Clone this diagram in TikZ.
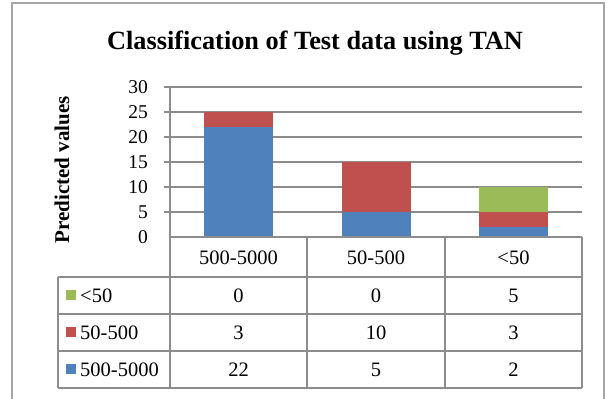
\documentclass[tikz,border=0pt]{standalone}
\usepackage{fontspec}
\setmainfont{Liberation Serif}
\definecolor{sblue}{HTML}{4F81BD}
\definecolor{sred}{HTML}{C0504D}
\definecolor{sgreen}{HTML}{9BBB59}
\definecolor{gridc}{HTML}{8C8C8C}
\definecolor{framec}{HTML}{A6A6A6}
\begin{document}
\begin{tikzpicture}[x=1pt,y=-1pt,
  grid/.style={draw=gridc,line width=1.3pt},
  tbl/.style={draw=gridc,line width=1.4pt},
  tick/.style={anchor=east,inner sep=0pt,font=\fontsize{19.5}{19.5}\selectfont},
  cell/.style={inner sep=0pt,font=\fontsize{20.5}{20.5}\selectfont},
  leg/.style={anchor=west,inner sep=0pt,font=\fontsize{20.5}{20.5}\selectfont},
  sq/.style={minimum size=10pt,inner sep=0pt}]
\useasboundingbox (0,0) rectangle (614,399);
\fill[white] (0,0) rectangle (614,399);
% frame
\draw[draw=framec,line width=1.5pt] (12,400) -- (12,3) -- (604,3) -- (604,400);
% title
\node[inner sep=0pt,font=\fontsize{26.3}{26.3}\selectfont\bfseries] (title) at (315,43) {Classification of Test data using TAN};
% y label
\node[inner sep=0pt,rotate=90,font=\fontsize{21}{21}\selectfont\bfseries] (ylab) at (62,170) {Predicted values};
% gridlines and ticks
\foreach \v in {5,10,...,30}{
  \draw[grid] (164,{237-5*\v}) -- (582,{237-5*\v});
}
\foreach \v in {0,5,...,30}{
  \node[tick] (t\v) at (148,{237-5*\v}) {\v};
}
% bars
\fill[sblue] (204,237) rectangle (273,{237-5*22});
\fill[sred] (204,{237-5*22}) rectangle (273,{237-5*25});
\fill[sblue] (342,237) rectangle (411,{237-5*5});
\fill[sred] (342,{237-5*5}) rectangle (411,{237-5*15});
\fill[sblue] (479,237) rectangle (548,{237-5*2});
\fill[sred] (479,{237-5*2}) rectangle (548,{237-5*5});
\fill[sgreen] (479,{237-5*5}) rectangle (548,{237-5*10});
% axis
\draw[grid] (170,87) -- (170,237);
% table
\draw[tbl] (170,237) -- (582,237);
\draw[tbl] (170,237) -- (170,388);
\draw[tbl] (307,237) -- (307,388);
\draw[tbl] (445,237) -- (445,388);
\draw[tbl] (582,237) -- (582,388);
\draw[tbl] (58,277) -- (582,277);
\draw[tbl] (58,314) -- (582,314);
\draw[tbl] (58,351) -- (582,351);
\draw[tbl] (58,388) -- (582,388);
\draw[tbl] (58,277) -- (58,388);
% header
\node[cell] (h1) at (238.5,258) {500-5000};
\node[cell] (h2) at (376,258) {50-500};
\node[cell] (h3) at (513.5,258) {<50};
% legend
\node[sq,fill=sgreen] (s1) at (71,295) {};
\node[sq,fill=sred] (s2) at (71,332) {};
\node[sq,fill=sblue] (s3) at (71,369) {};
\node[leg] (l1) at (80,296) {<50};
\node[leg] (l2) at (80,333) {50-500};
\node[leg] (l3) at (80,370) {500-5000};
% values
\node[cell] (c11) at (238.5,296) {0};
\node[cell] (c12) at (376,296) {0};
\node[cell] (c13) at (513.5,296) {5};
\node[cell] (c21) at (238.5,333) {3};
\node[cell] (c22) at (376,333) {10};
\node[cell] (c23) at (513.5,333) {3};
\node[cell] (c31) at (238.5,370) {22};
\node[cell] (c32) at (376,370) {5};
\node[cell] (c33) at (513.5,370) {2};
\end{tikzpicture}
\end{document}
